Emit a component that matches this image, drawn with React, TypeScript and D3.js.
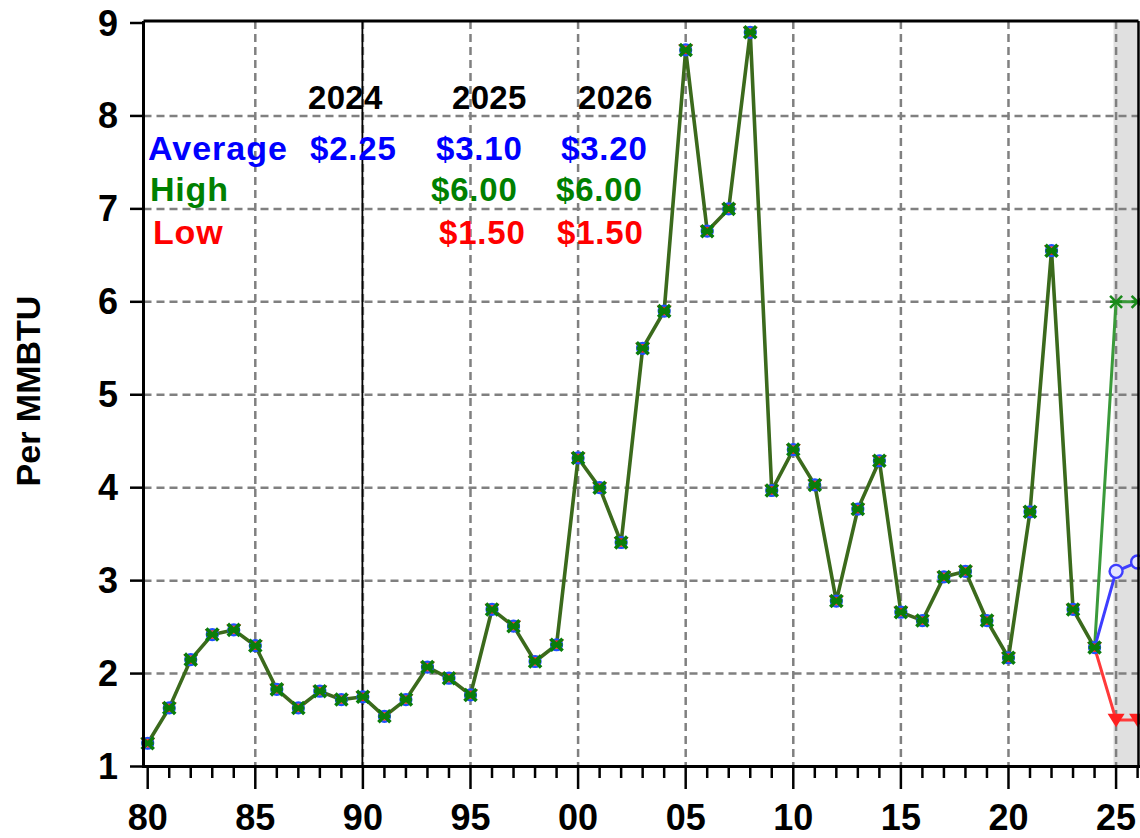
import React from "react";
import * as d3 from "d3";

const years = d3.range(1980, 2025);
const history = [
  1.25, 1.63, 2.15, 2.42, 2.47, 2.3, 1.83, 1.63, 1.81, 1.72,
  1.75, 1.54, 1.72, 2.07, 1.95, 1.77, 2.69, 2.51, 2.13, 2.31,
  4.32, 4.0, 3.41, 5.5, 5.9, 8.71, 6.76, 7.0, 8.9, 3.97,
  4.41, 4.03, 2.78, 3.77, 4.29, 2.66, 2.57, 3.04, 3.1, 2.57,
  2.17, 3.74, 6.55, 2.69, 2.28,
];
const forecastYears = [2024, 2025, 2026];
const avgForecast = [2.28, 3.1, 3.2];
const highForecast = [2.28, 6.0, 6.0];
const lowForecast = [2.28, 1.5, 1.5];
const yTicks = [1, 2, 3, 4, 5, 6, 7, 8, 9];
const xMajor = [1980, 1985, 1990, 1995, 2000, 2005, 2010, 2015, 2020, 2025];
const headerYears = ["2024", "2025", "2026"];
const avgLabels = ["$2.25", "$3.10", "$3.20"];
const highLabels = ["", "$6.00", "$6.00"];
const lowLabels = ["", "$1.50", "$1.50"];

const FONT = "'Liberation Sans', Arial, Helvetica, sans-serif";

export default function App() {
  const W = 1140, H = 838;
  const x = d3.scaleLinear().domain([1980, 2026]).range([147.7, 1137.6]);
  const y = d3.scaleLinear().domain([1, 9]).range([766.5, 23]);
  const left = 143.5, top = 21, right = 1138.5, bottom = 766.5;

  const line = d3.line<[number, number]>().x(d => x(d[0])).y(d => y(d[1]));
  const histPts: [number, number][] = years.map((yr, i) => [yr, history[i]]);
  const mk = (arr: number[]) => forecastYears.map((yr, i) => [yr, arr[i]] as [number, number]);

  const tri = (cx: number, cy: number, s: number) =>
    `M${cx - s},${cy - s * 0.75}L${cx + s},${cy - s * 0.75}L${cx},${cy + s * 0.85}Z`;
  const star = (cx: number, cy: number, s: number) =>
    `M${cx - s},${cy - s}L${cx + s},${cy + s}M${cx - s},${cy + s}L${cx + s},${cy - s}M${cx - s},${cy}L${cx + s},${cy}`;

  const colX = [308, 452, 578];
  const avgX = [310, 436, 561];
  const highX = [0, 431, 556];
  const lowX = [0, 439, 557];

  return (
    <svg width={W} height={H} style={{ position: "absolute", left: 0, top: 0, background: "#fff" }} fontFamily={FONT}>
      {/* forecast shading */}
      <rect x={x(2024.88)} y={top} width={right - x(2024.88)} height={bottom - top} fill="#e0e0e0" />
      {/* grid */}
      {yTicks.slice(1, -1).map(t => (
        <line key={"gy" + t} x1={left} x2={right} y1={y(t)} y2={y(t)} stroke="#808080" strokeWidth={2.5} strokeDasharray="8,5" />
      ))}
      {xMajor.slice(1).map(t => (
        <line key={"gx" + t} x1={x(t)} x2={x(t)} y1={top} y2={bottom} stroke="#808080" strokeWidth={2.5} strokeDasharray="8,5" />
      ))}
      {/* 1990 reference line */}
      <line x1={x(1990) - 0.5} x2={x(1990) - 0.5} y1={top} y2={bottom} stroke="#000" strokeWidth={1.8} />

      {/* forecast lines */}
      <path d={line(mk(highForecast)) || ""} fill="none" stroke="#3a9a3a" strokeWidth={3} />
      <path d={line(mk(avgForecast)) || ""} fill="none" stroke="#3d3dff" strokeWidth={3} />
      <path d={line(mk(lowForecast)) || ""} fill="none" stroke="#ff3a3a" strokeWidth={3} />
      {/* history line */}
      <path d={line(histPts) || ""} fill="none" stroke="#3b6a1c" strokeWidth={3.6} />

      {/* history markers */}
      {histPts.map(([yr, v]) => (
        <g key={"m" + yr}>
          <path d={tri(x(yr), y(v), 7.5)} fill="#ff2020" opacity={0.85} />
          <circle cx={x(yr)} cy={y(v)} r={5.5} fill="none" stroke="#2050ff" strokeWidth={2.2} />
          <path d={star(x(yr), y(v), 6)} stroke="#0a7d0a" strokeWidth={3.6} fill="none" />
        </g>
      ))}
      {/* forecast markers */}
      {forecastYears.slice(1).map((yr, i) => (
        <g key={"f" + yr}>
          <path d={star(x(yr), y(highForecast[i + 1]), 6)} stroke="#1a8a1a" strokeWidth={2.6} fill="none" />
          <circle cx={x(yr)} cy={y(avgForecast[i + 1])} r={6.5} fill="#e4e4ff" stroke="#3d3dff" strokeWidth={2.4} />
          <path d={tri(x(yr), y(lowForecast[i + 1]), 8.5)} fill="#ff2020" />
        </g>
      ))}

      {/* frame */}
      <line x1={left} x2={right} y1={top} y2={top} stroke="#000" strokeWidth={3} />
      <line x1={right} x2={right} y1={top} y2={bottom} stroke="#000" strokeWidth={2.5} />
      <line x1={left} x2={left} y1={top} y2={bottom + 1.5} stroke="#000" strokeWidth={3} />
      <line x1={left - 1.5} x2={W} y1={bottom} y2={bottom} stroke="#000" strokeWidth={3} />

      {/* y ticks */}
      {yTicks.map(t => (
        <g key={"yt" + t}>
          <line x1={130} x2={left} y1={y(t)} y2={y(t)} stroke="#000" strokeWidth={2.5} />
          <text x={118} y={y(t) + 12.5} textAnchor="end" fontSize={36} fontWeight="bold" fill="#000">{t}</text>
        </g>
      ))}
      {/* x ticks */}
      {d3.range(1980, 2027).map(t => (
        <line key={"xt" + t} x1={x(t)} x2={x(t)} y1={bottom} y2={t % 5 === 0 ? 789 : 778} stroke="#000" strokeWidth={2.5} />
      ))}
      {xMajor.map(t => (
        <text key={"xl" + t} x={x(t)} y={830} textAnchor="middle" fontSize={36} fontWeight="bold" fill="#000">
          {String(t % 100).padStart(2, "0")}
        </text>
      ))}

      {/* y label */}
      <text transform={`translate(40,391) rotate(-90)`} textAnchor="middle" fontSize={34} fontWeight="bold" fill="#000">Per MMBTU</text>

      {/* annotation table */}
      {headerYears.map((t, i) => (
        <text key={"h" + i} x={colX[i]} y={109} fontSize={33} fontWeight="bold" fill="#000" letterSpacing={0.3}>{t}</text>
      ))}
      <text x={148} y={160} fontSize={34} fontWeight="bold" fill="#0000ff" letterSpacing={1}>Average</text>
      <text x={150} y={201} fontSize={34} fontWeight="bold" fill="#008000" letterSpacing={0.8}>High</text>
      <text x={153} y={244} fontSize={34} fontWeight="bold" fill="#ff0000" letterSpacing={0.8}>Low</text>
      {avgLabels.map((t, i) => (
        <text key={"a" + i} x={avgX[i]} y={160} fontSize={33} fontWeight="bold" fill="#0000ff" letterSpacing={0.8}>{t}</text>
      ))}
      {highLabels.map((t, i) => t ? (
        <text key={"hi" + i} x={highX[i]} y={201} fontSize={33} fontWeight="bold" fill="#008000" letterSpacing={0.8}>{t}</text>
      ) : null)}
      {lowLabels.map((t, i) => t ? (
        <text key={"lo" + i} x={lowX[i]} y={244} fontSize={33} fontWeight="bold" fill="#ff0000" letterSpacing={0.8}>{t}</text>
      ) : null)}
    </svg>
  );
}
